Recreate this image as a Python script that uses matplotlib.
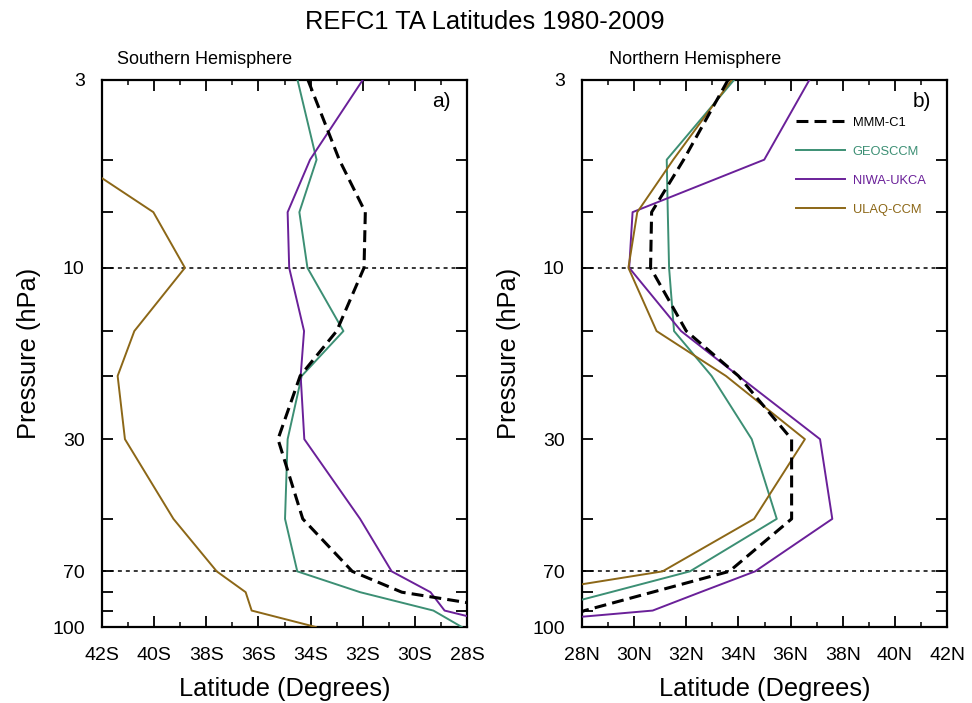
import matplotlib
matplotlib.use("Agg")
import matplotlib.pyplot as plt
from matplotlib.ticker import FixedLocator, FixedFormatter, NullLocator

plt.rcParams['font.family'] = ['Liberation Sans', 'DejaVu Sans']

# ---------------- data ----------------
pressure = [3, 5, 7, 10, 15, 20, 30, 50, 70, 80, 90, 100]

# Southern Hemisphere latitudes (degrees south, stored as negative)
sh_mmm = [-34.1, -32.9, -31.9, -31.95, -33.0, -34.4, -35.25, -34.3, -32.4, -30.5, -26.1, -25.0]
sh_geos = [-34.5, -33.77, -34.43, -34.12, -32.74, -34.34, -34.88, -34.98, -34.51, -32.1, -29.29, -28.2]
sh_niwa = [-32.0, -34.02, -34.88, -34.82, -34.25, -34.38, -34.24, -32.1, -30.89, -29.4, -28.86, -26.3]
sh_ulaq = [-46.0, -43.07, -40.03, -38.82, -40.76, -41.4, -41.12, -39.26, -37.6, -36.49, -36.26, -33.8]

# Northern Hemisphere latitudes (degrees north)
nh_mmm = [33.6, 31.9, 30.67, 30.63, 32.0, 34.0, 36.04, 36.04, 33.65, 30.7, 28.1, 26.5]
nh_geos = [33.83, 31.25, 31.29, 31.34, 31.53, 32.97, 34.51, 35.47, 32.14, 29.1, 26.4, 25.5]
nh_niwa = [36.72, 34.99, 29.94, 29.81, 31.8, 34.0, 37.13, 37.6, 34.64, 32.54, 30.71, 23.5]
nh_ulaq = [33.74, 31.5, 30.12, 29.78, 30.86, 33.52, 36.55, 34.6, 31.09, 26.1, 25.5, 25.0]

series_names = ["MMM-C1", "GEOSCCM", "NIWA-UKCA", "ULAQ-CCM"]

ytick_vals = [3, 5, 7, 10, 15, 20, 30, 50, 70, 80, 90, 100]
ytick_labels = ["3", "", "", "10", "", "", "30", "", "70", "", "", "100"]
ref_levels = [10, 70]

sh_xticks = [-42, -40, -38, -36, -34, -32, -30, -28]
sh_xlabels = ["42S", "40S", "38S", "36S", "34S", "32S", "30S", "28S"]
nh_xticks = [28, 30, 32, 34, 36, 38, 40, 42]
nh_xlabels = ["28N", "30N", "32N", "34N", "36N", "38N", "40N", "42N"]

# ---------------- style ----------------
colors = {"MMM-C1": "black", "GEOSCCM": "#3c8f74", "NIWA-UKCA": "#6a2099", "ULAQ-CCM": "#8c6717"}

fig = plt.figure(figsize=(9.72, 7.03), dpi=100)
W, H = 972.0, 703.0
axL = fig.add_axes([102 / W, 1 - 627 / H, 365 / W, 547 / H])
axR = fig.add_axes([582 / W, 1 - 627 / H, 365 / W, 547 / H])


def setup(ax, xticks, xlabels, xlim, letter):
    ax.set_yscale('log')
    ax.set_ylim(100, 3)
    ax.set_xlim(*xlim)
    ax.yaxis.set_major_locator(FixedLocator(ytick_vals))
    ax.yaxis.set_major_formatter(FixedFormatter(ytick_labels))
    ax.yaxis.set_minor_locator(NullLocator())
    ax.set_xticks(xticks)
    ax.set_xticklabels(xlabels)
    lo = min(xlim)
    ax.set_xticks([lo + 1 + 2 * i for i in range(7)], minor=True)
    ax.tick_params(axis='both', which='major', direction='in', length=8, width=1.3,
                   labelsize=14, top=True, right=True)
    ax.tick_params(axis='x', which='major', pad=14.5)
    ax.tick_params(axis='y', which='major', pad=12.5)
    ax.tick_params(axis='x', which='minor', direction='in', length=3.8, width=1.1,
                   top=True, bottom=True)
    for s in ax.spines.values():
        s.set_linewidth(1.6)
    for lev in ref_levels:
        ax.axhline(lev, color='black', lw=1.1, linestyle=(0, (2.6, 2.6)), zorder=1)
    ax.set_xlabel("Latitude (Degrees)", fontsize=18.3, labelpad=9)
    ax.set_ylabel("Pressure (hPa)", fontsize=18.3, labelpad=8)
    ax.text(0.955, 0.96, letter, transform=ax.transAxes, ha='right', va='center', fontsize=15)


def draw(ax, mmm, geos, niwa, ulaq):
    data = [mmm, geos, niwa, ulaq]
    for name, vals in zip(series_names, data):
        if name == "MMM-C1":
            ax.plot(vals, pressure, color='black', lw=2.2, linestyle=(0, (3.9, 2.0)),
                    label=name, zorder=4)
        else:
            ax.plot(vals, pressure, color=colors[name], lw=1.4, label=name, zorder=3)


setup(axL, sh_xticks, sh_xlabels, (-42, -28), "a)")
setup(axR, nh_xticks, nh_xlabels, (28, 42), "b)")
draw(axL, sh_mmm, sh_geos, sh_niwa, sh_ulaq)
draw(axR, nh_mmm, nh_geos, nh_niwa, nh_ulaq)

leg = axR.legend(loc='upper left', bbox_to_anchor=(0.586, 0.933), frameon=False,
                 fontsize=9.3, handlelength=3.8, handletextpad=0.6, labelspacing=1.32,
                 borderpad=0, borderaxespad=0, labelcolor='linecolor')

fig.text(485 / W, 1 - 22 / H, "REFC1 TA Latitudes 1980-2009", ha='center', va='center', fontsize=18.4)
fig.text(117 / W, 1 - 60 / H, "Southern Hemisphere", ha='left', va='center', fontsize=13)
fig.text(609 / W, 1 - 60 / H, "Northern Hemisphere", ha='left', va='center', fontsize=13)

fig.savefig("out.png", dpi=100)
